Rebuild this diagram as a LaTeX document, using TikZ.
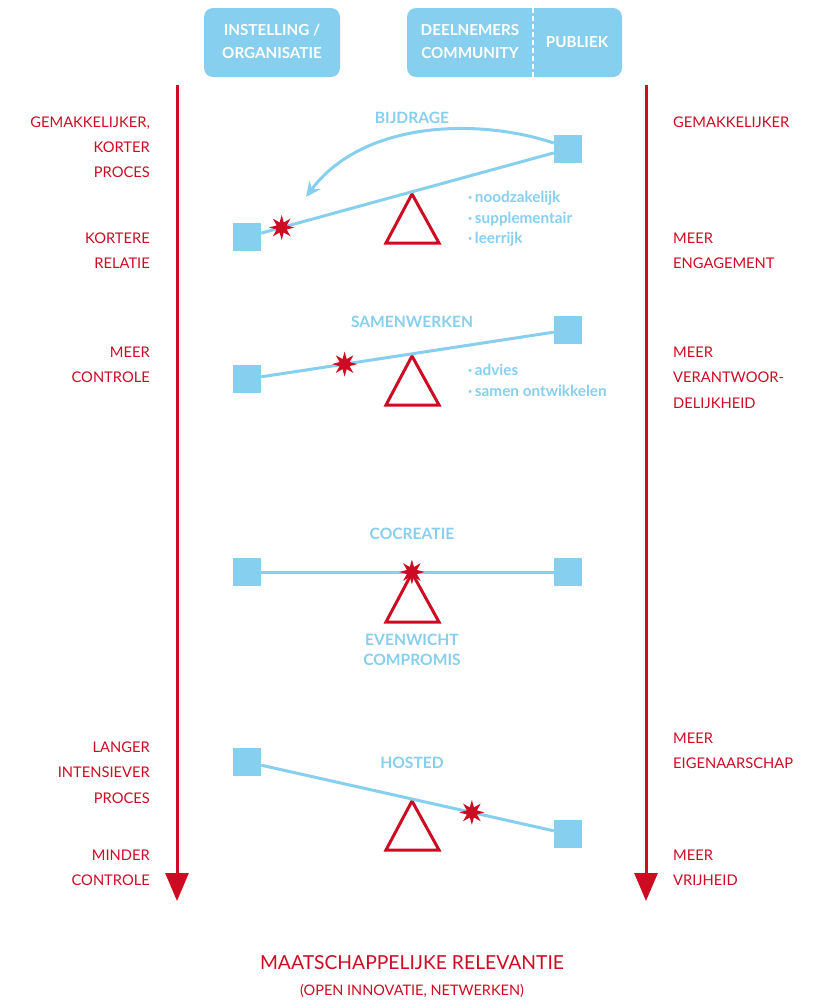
\documentclass[tikz,border=0pt]{standalone}
\usepackage{fontspec}
\setmainfont{Lato}
\usetikzlibrary{arrows.meta,shapes.geometric}
\definecolor{lblue}{RGB}{135,207,239}
\definecolor{dred}{RGB}{205,12,36}
\tikzset{
  hdr/.style={fill=lblue, rounded corners=9pt, draw=none},
  htxt/.style={text=white, font=\fontsize{15.2}{18}\selectfont\bfseries, inner sep=0pt},
  lbl/.style={text=dred, font=\fontsize{14.7}{17}\selectfont, inner sep=0pt},
  ttl/.style={text=lblue, font=\fontsize{15.6}{18}\selectfont\bfseries, inner sep=0pt},
  bul/.style={text=lblue, font=\fontsize{15.3}{18}\selectfont\bfseries, inner sep=0pt, anchor=base west},
  sq/.style={fill=lblue, minimum size=28pt, inner sep=0pt, draw=none},
  link/.style={draw=lblue, line width=3pt},
  starnode/.style={star, star points=8, star point ratio=2.3, fill=dred, minimum size=25pt, inner sep=0pt, draw=none},
  tri/.style={draw=dred, line width=3pt, line join=miter},
  axis/.style={draw=dred, line width=3pt, -{Triangle[length=28pt,width=23pt]}},
}
\begin{document}
\begin{tikzpicture}[x=1pt,y=-1pt]
\useasboundingbox[fill=white] (0,0) rectangle (818,1001);

% headers
\node[hdr, minimum width=136pt, minimum height=69pt] (h1) at (272,42.5) {};
\node[htxt, anchor=base] (h1a) at (272,35.5) {INSTELLING /};
\node[htxt, anchor=base] (h1b) at (272,58.5) {ORGANISATIE};
\node[hdr, minimum width=215pt, minimum height=69pt] (h2) at (514.5,42.5) {};
\draw[white, line width=2pt, dash pattern=on 5pt off 3pt] (h2.north -| 533,0) -- (h2.south -| 533,0);
\node[htxt, anchor=base] (h2a) at (470,35.5) {DEELNEMERS};
\node[htxt, anchor=base] (h2b) at (470,58.5) {COMMUNITY};
\node[htxt, anchor=base] (h2c) at (577,47) {PUBLIEK};

% axes
\coordinate (ltop) at (177,85);
\coordinate (lbot) at (177,901);
\coordinate (rtop) at (646,85);
\coordinate (rbot) at (646,901);
\draw[axis] (ltop) -- (lbot);
\draw[axis] (rtop) -- (rbot);

% left labels
\node[lbl, anchor=base east] (la1) at (150,127.5) {GEMAKKELIJKER,};
\node[lbl, anchor=base east] (la2) at (150,152.5) {KORTER};
\node[lbl, anchor=base east] (la3) at (150,177.5) {PROCES};
\node[lbl, anchor=base east] (lb1) at (150,243.5) {KORTERE};
\node[lbl, anchor=base east] (lb2) at (150,268.5) {RELATIE};
\node[lbl, anchor=base east] (lc1) at (150,357.5) {MEER};
\node[lbl, anchor=base east] (lc2) at (150,382.5) {CONTROLE};
\node[lbl, anchor=base east] (ld1) at (150,752.5) {LANGER};
\node[lbl, anchor=base east] (ld2) at (150,777.5) {INTENSIEVER};
\node[lbl, anchor=base east] (ld3) at (150,803.5) {PROCES};
\node[lbl, anchor=base east] (le1) at (150,860.5) {MINDER};
\node[lbl, anchor=base east] (le2) at (150,885.5) {CONTROLE};

% right labels
\node[lbl, anchor=base west] (ra1) at (673,127.5) {GEMAKKELIJKER};
\node[lbl, anchor=base west] (rb1) at (673,243.5) {MEER};
\node[lbl, anchor=base west] (rb2) at (673,268.5) {ENGAGEMENT};
\node[lbl, anchor=base west] (rc1) at (673,357.5) {MEER};
\node[lbl, anchor=base west] (rc2) at (673,382.5) {VERANTWOOR-};
\node[lbl, anchor=base west] (rc3) at (673,408.5) {DELIJKHEID};
\node[lbl, anchor=base west] (rd1) at (673,743.5) {MEER};
\node[lbl, anchor=base west] (rd2) at (673,768.5) {EIGENAARSCHAP};
\node[lbl, anchor=base west] (re1) at (673,860.5) {MEER};
\node[lbl, anchor=base west] (re2) at (673,885.5) {VRIJHEID};

% scenario 1: BIJDRAGE
\node[ttl, anchor=base] (t1) at (412,123) {BIJDRAGE};
\node[sq] (l1) at (247,237) {};
\node[sq] (r1) at (568,149) {};
\draw[tri] (412,194) -- (386,243) -- (439,243) -- cycle;
\draw[link] (l1) -- (r1) node[starnode, pos=0.07] (s1) {};
\coordinate (a1) at (306,197);
\draw[draw=lblue, line width=3pt, -{Stealth[length=15pt,width=14pt,inset=5pt]}] (r1.west) ++(0,-6) .. controls (475,117) and (362,122) .. (a1);
\node[bul] (b1a) at (468,202) {·\,noodzakelijk};
\node[bul] (b1b) at (468,223) {·\,supplementair};
\node[bul] (b1c) at (468,243) {·\,leerrijk};

% scenario 2: SAMENWERKEN
\node[ttl, anchor=base] (t2) at (412,327) {SAMENWERKEN};
\node[sq] (l2) at (247,379) {};
\node[sq] (r2) at (568,330) {};
\draw[tri] (412,356) -- (386,405) -- (439,405) -- cycle;
\draw[link] (l2) -- (r2) node[starnode, pos=0.285] (s2) {};
\node[bul] (b2a) at (468,375) {·\,advies};
\node[bul] (b2b) at (468,396) {·\,samen ontwikkelen};

% scenario 3: COCREATIE
\node[ttl, anchor=base] (t3) at (412,539) {COCREATIE};
\node[sq] (l3) at (247,572) {};
\node[sq] (r3) at (568,572) {};
\draw[tri] (412,573) -- (386,622) -- (439,622) -- cycle;
\draw[link] (l3) -- (r3) node[starnode, pos=0.515] (s3) {};
\node[ttl, anchor=base] (e1) at (412,645) {EVENWICHT};
\node[ttl, anchor=base] (e2) at (412,665) {COMPROMIS};

% scenario 4: HOSTED
\node[ttl, anchor=base] (t4) at (412,768) {HOSTED};
\node[sq] (l4) at (247,762) {};
\node[sq] (r4) at (568,834) {};
\draw[tri] (412,801) -- (386,850) -- (439,850) -- cycle;
\draw[link] (l4) -- (r4) node[starnode, pos=0.72] (s4) {};

% bottom
\node[lbl, font=\fontsize{19.3}{22}\selectfont, anchor=base] (m1) at (412,969.5) {MAATSCHAPPELIJKE RELEVANTIE};
\node[lbl, font=\fontsize{14.5}{17}\selectfont, anchor=base] (m2) at (412,995) {(OPEN INNOVATIE, NETWERKEN)};
\end{tikzpicture}
\end{document}
